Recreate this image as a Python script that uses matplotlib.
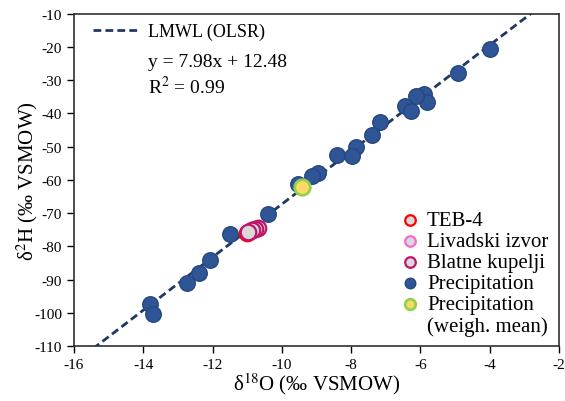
import matplotlib
matplotlib.use("Agg")
import matplotlib.pyplot as plt
from matplotlib.lines import Line2D
import numpy as np

plt.rcParams['font.family'] = ['Liberation Serif', 'DejaVu Serif']
plt.rcParams['mathtext.fontset'] = 'stix'
plt.rcParams['axes.unicode_minus'] = False

# LMWL parameters
slope = 7.98
intercept = 12.48

# Precipitation samples
precip_d18O = [-4.0, -4.9, -5.89, -5.82, -6.11, -6.44, -6.28, -7.15, -7.39, -7.86, -8.40, -7.98,
               -8.95, -9.14, -9.52, -10.39, -11.50, -12.07, -12.38, -12.73, -13.81, -13.71]
precip_d2H = [-20.5, -27.8, -34.2, -36.6, -34.8, -37.8, -39.1, -42.6, -46.4, -50.2, -52.5, -52.7,
              -57.9, -58.7, -61.2, -70.2, -76.3, -84.1, -88.0, -91.0, -97.3, -100.4]

# Weighted mean precipitation
wm_d18O = [-9.41]
wm_d2H = [-62.2]

# Groundwater
teb_d18O = [-11.0, -10.95]
teb_d2H = [-75.9, -75.6]
liv_d18O = [-10.92, -10.86]
liv_d2H = [-75.4, -75.1]
bla_d18O = [-10.70, -10.78, -10.86, -10.97]
bla_d2H = [-74.4, -74.8, -75.2, -75.8]

fig = plt.figure(figsize=(5.65, 4.02), dpi=100)
ax = fig.add_axes([0.131, 0.137, 0.858, 0.826])

xl = np.array([-16, -2])
line, = ax.plot(xl, slope * xl + intercept, linestyle=(0, (2.8, 1.5)), color='#1f3864', lw=2.0,
                zorder=1, label='LMWL (OLSR)')

ms = 125
p1 = ax.scatter(precip_d18O, precip_d2H, s=ms, facecolor='#2f5597', edgecolor='#24487f',
                linewidth=1, zorder=3, label='Precipitation')
p2 = ax.scatter(wm_d18O, wm_d2H, s=ms, facecolor='#ffd966', edgecolor='#92d050',
                linewidth=2, zorder=4, label='Precipitation')
g1 = ax.scatter(teb_d18O, teb_d2H, s=ms, facecolor='#d9d9d9', edgecolor='#ff0000',
                linewidth=1.6, zorder=5, label='TEB-4')
g2 = ax.scatter(liv_d18O, liv_d2H, s=ms, facecolor='#d9d9d9', edgecolor='#f06ad8',
                linewidth=1.6, zorder=5, label='Livadski izvor')
g3 = ax.scatter(bla_d18O, bla_d2H, s=ms, facecolor='#d9d9d9', edgecolor='#c0146c',
                linewidth=1.6, zorder=6, label='Blatne kupelji')

ax.set_xlim(-16, -2)
ax.set_ylim(-110, -10)
ax.set_xticks(np.arange(-16, -1, 2))
ax.set_yticks(np.arange(-110, -9, 10))
ax.tick_params(direction='out', length=5, width=1, labelsize=11, colors='black')
for s in ax.spines.values():
    s.set_color('#303030')
    s.set_linewidth(1.2)

ax.set_xlabel('δ$^{18}$O (‰ VSMOW)', fontsize=15, labelpad=0)
ax.set_ylabel('δ$^{2}$H (‰ VSMOW)', fontsize=15, labelpad=-4)

leg1 = ax.legend(handles=[line], loc='center left', bbox_to_anchor=(0.039, 0.946),
                 frameon=False, fontsize=13, handlelength=2.5, borderaxespad=0,
                 borderpad=0, handletextpad=0.55)
ax.add_artist(leg1)
ax.text(0.153, 0.858, 'y = 7.98x + 12.48', transform=ax.transAxes, fontsize=14, va='center')
ax.text(0.153, 0.783, 'R$^{2}$ = 0.99', transform=ax.transAxes, fontsize=14, va='center')

blank = Line2D([], [], linestyle='none', marker=None, label='(weigh. mean)')
ax.legend(handles=[g1, g2, g3, p1, p2, blank], loc='lower right', frameon=False, fontsize=15,
          handletextpad=0.35, labelspacing=0.07, borderaxespad=0.1, markerscale=0.68,
          handlelength=0.9)

fig.savefig('out.png', dpi=100)
